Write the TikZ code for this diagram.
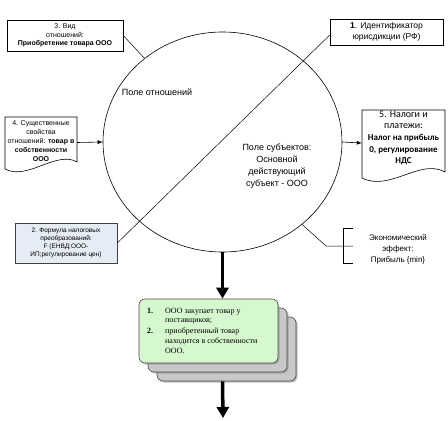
\documentclass[tikz,border=0pt]{standalone}
\usepackage{fontspec}
\setmainfont{Liberation Sans}
\newfontfamily\mycalibri{Carlito}
\newfontfamily\myserif{Liberation Serif}
\usetikzlibrary{arrows.meta,shapes.geometric,shadows}
\definecolor{boxblue}{HTML}{E6ECF6}
\definecolor{boxgreen}{HTML}{D6F8CF}
\definecolor{stackgray}{HTML}{C8C8C8}
\tikzset{
  plainbox/.style={draw=black, line width=0.6pt, align=center, inner sep=1pt},
  docbox/.style={draw=none, align=center, inner sep=0pt},
  thin/.style={draw=black, line width=0.5pt},
  smallarrow/.style={draw=black, line width=0.6pt, -{Latex[length=5pt,width=4pt]}},
  boldarrow/.style={draw=black, line width=3.5pt, -{Triangle[length=11pt,width=12pt]}},
  stackbox/.style={draw=black!70, line width=0.6pt, rounded corners=6pt, fill=stackgray,
     drop shadow={shadow xshift=1.5pt, shadow yshift=-1.5pt, fill=black!45, opacity=0.6}},
}
\begin{document}
\begin{tikzpicture}[x=1pt,y=-1pt]
\useasboundingbox (0,0) rectangle (448,421);
% field ellipse
\node[ellipse, draw=black, line width=0.6pt, minimum width=239pt, minimum height=220pt, inner sep=0pt] (field) at (222.5,142) {};
\node[font=\fontsize{9}{11}\selectfont] (rel) at (157,92) {Поле отношений};
\node[font=\fontsize{9}{12}\selectfont, align=center] (subj) at (277,166) {Поле субъектов:\\Основной\\действующий\\субъект - ООО};
% box 1
\node[plainbox, minimum width=113pt, minimum height=26pt, font=\fontsize{8.5}{10.5}\selectfont] (b1) at (386.5,32) {\textbf{1}. Идентификатор\\юрисдикции (РФ)};
% box 3
\node[plainbox, minimum width=116pt, minimum height=31pt, font=\fontsize{7}{8.6}\selectfont] (b3) at (65,35.5) {3. Вид\\отношений:\\\textbf{Приобретение товара ООО}};
% box 2
\node[plainbox, draw=black!75, fill=boxblue, minimum width=102pt, minimum height=40pt, font=\fontsize{6.5}{8.2}\selectfont] (b2) at (66,243) {2. Формула налоговых\\преобразований:\\F (ЕНВД;ООО-\\ИП;регулирование цен)};
% box 4 (document shape)
\node[docbox, minimum width=72pt, minimum height=51pt] (b4) at (41,142.5) {};
\draw[thin, line width=0.6pt] (5,169) -- (5,117) -- (77,117) -- (77,162)
   .. controls (57,150) and (27,181) .. (5,169);
\node[docbox, font=\fontsize{7}{8.8}\selectfont] (b4t) at (41,141) {4. Существенные\\свойства\\отношений: \textbf{товар в}\\\textbf{собственности}\\\textbf{ООО}};
% box 5 (document shape)
\node[docbox, minimum width=83pt, minimum height=66pt] (b5) at (403.5,143) {};
\draw[thin, line width=0.6pt] (362,178) -- (362,110) -- (445,110) -- (445,172)
   .. controls (420,158) and (390,192) .. (362,178);
\node[docbox, font=\mycalibri\fontsize{10}{11.6}\selectfont] (b5t) at (403.5,138) {5. Налоги и\\платежи:\\{\bfseries\fontsize{9}{11.2}\selectfont Налог на прибыль}\\{\bfseries\fontsize{9}{11.2}\selectfont 0, регулирование}\\{\bfseries\fontsize{9}{11.2}\selectfont НДС}};
% economic effect
\node[font=\fontsize{8}{11}\selectfont, align=center] (econ) at (398,249) {Экономический\\эффект:\\Прибыль \{min\}};
\coordinate (ek) at (326,246);
\coordinate (bt) at (343,228);
\coordinate (bb) at (343,263);
\draw[thin] (field.-46) -- (ek) -- (353,246);
\draw[thin] (353,228) -- (bt) -- (bb) -- (353,263);
% connectors
\draw[thin] (b2.east) -- ([yshift=-3pt]b1.west);
\draw[thin] (b3.east) -- (field.133);
\draw[smallarrow] (b4.east) -- (field.west);
\draw[smallarrow] (field.east) -- (b5.west);
% bottom stack
\node[stackbox, minimum width=139pt, minimum height=64pt] (s3) at (226.5,349) {};
\node[stackbox, minimum width=139pt, minimum height=64pt] (s2) at (217.5,340) {};
\node[stackbox, fill=boxgreen, minimum width=139pt, minimum height=64pt] (s1) at (208.5,331) {};
\node[anchor=north west, inner sep=0pt, font=\myserif\fontsize{8}{9.8}\selectfont] (list) at (147,306)
  {\begin{tabular}{@{}p{18pt}@{}l@{}}
   \textbf{1.} & ООО закупает товар у\\
               & поставщиков;\\[1pt]
   \textbf{2.} & приобретенный товар\\
               & находится в собственности\\
               & ООО.
   \end{tabular}};
\coordinate (end) at (223,418);
\draw[boldarrow] (field.south) -- (s1.north -| field.south);
\draw[boldarrow] (s3.south -| field.south) -- (end);
\end{tikzpicture}
\end{document}
